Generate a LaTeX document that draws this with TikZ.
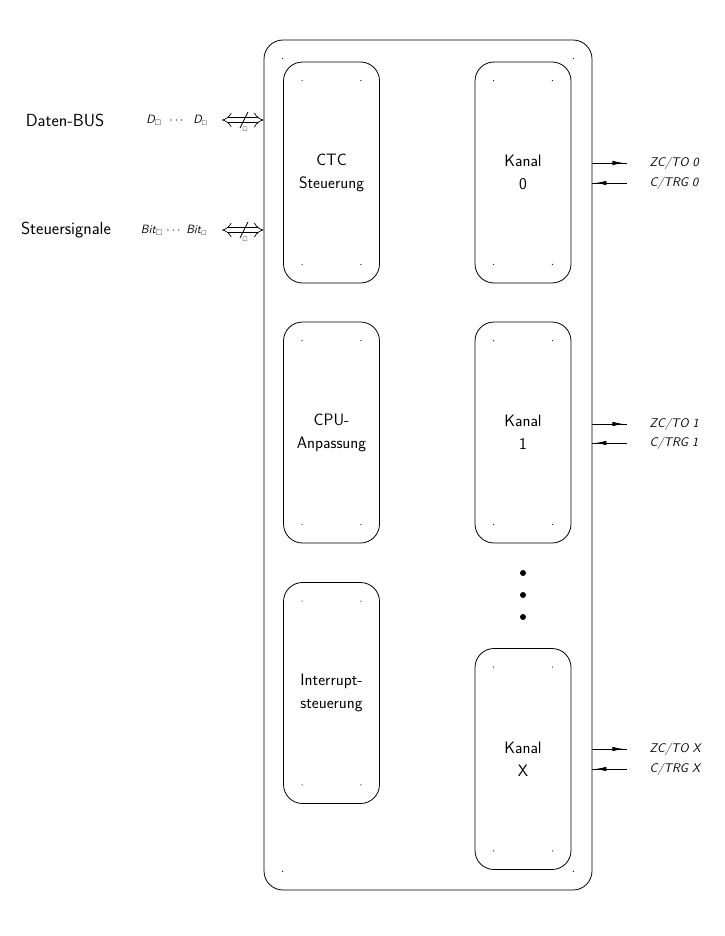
\documentclass[tikz,border=0pt]{standalone}
\usepackage{amsmath,amssymb}
\usepackage{tikz}
\usetikzlibrary{calc,arrows.meta}

\begin{document}
\begin{tikzpicture}[x=1pt,y=-1pt,line width=0.8pt,font=\sffamily,
		block/.style={draw,rounded corners=19pt,minimum width=96pt,minimum height=221pt,inner sep=0pt,align=center,font=\sffamily\fontsize{16.5}{23}\selectfont},
		sig/.style={anchor=west,font=\sffamily\itshape\fontsize{12.5}{14}\selectfont},
		bus/.style={double,double distance=4.5pt,line width=0.7pt,{Implies}-{Implies}}]
		\useasboundingbox (0,0) rectangle (724,936);
		\node[draw,rounded corners=19pt,minimum width=328pt,minimum height=850pt,inner sep=0pt] (chip) at (428,465) {};
		\node[block] (ctc) at (331.5,172.5) {CTC\\Steuerung};
		\node[block] (cpu) at (331.5,432.5) {CPU-\\Anpassung};
		\node[block] (irq) at (331.5,693) {Interrupt-\\steuerung};
		\node[block] (k0) at (523,172.5) {Kanal\\0};
		\node[block] (k1) at (523,432.5) {Kanal\\1};
		\node[block] (kx) at (523,759) {Kanal\\X};
		\foreach \b in {chip,ctc,cpu,irq,k0,k1,kx} {
			\fill ($(\b.north west)+(19,19)$) circle (0.6);
			\fill ($(\b.north east)+(-19,19)$) circle (0.6);
			\fill ($(\b.south west)+(19,-19)$) circle (0.6);
			\fill ($(\b.south east)+(-19,-19)$) circle (0.6);
		}
		\foreach \y in {573,595,617} \fill (523,\y) circle (3);
		\foreach \k/\yo/\yi in {0/163/183,1/424/443,X/749/769} {
			\node[sig] (zc\k) at (646,\yo) {ZC/TO \k};
			\node[sig] (trg\k) at (646,\yi) {C/TRG \k};
			\draw (chip.east |- zc\k) -- ++(35,0);
			\draw[-{Latex[length=11pt,width=4.5pt]}] ($(chip.east |- zc\k)+(19,0)$) -- ++(12,0);
			\draw (chip.east |- trg\k) -- ++(35,0);
			\draw[-{Latex[length=11pt,width=4.5pt]}] ($(chip.east |- trg\k)+(16,0)$) -- ++(-13,0);
		}
		\node[font=\sffamily\fontsize{17.5}{20}\selectfont] (daten) at (65,120) {Daten-BUS};
		\node[font=\sffamily\fontsize{17.5}{20}\selectfont] (steuer) at (66,230) {Steuersignale};
		\node[font=\sffamily\itshape\fontsize{12}{14}\selectfont] (dlab) at (177,120) {D$_{\square}$\ \ $\cdots$\ \ D$_{\scriptscriptstyle\square}$};
		\node[font=\sffamily\itshape\fontsize{12}{14}\selectfont] (blab) at (174,230) {Bit$_{\square}$\ $\cdots$\ Bit$_{\scriptscriptstyle\square}$};
		\coordinate (d0) at (222,120);
		\coordinate (b0) at (222,230);
		\draw[bus] (d0) -- (chip.west |- d0);
		\draw[bus] (b0) -- (chip.west |- b0);
		\draw (240,128) -- (248,112);
		\node[font=\tiny,inner sep=0pt,anchor=north] (dw) at (245,127) {$\square$};
		\draw (240,238) -- (248,222);
		\node[font=\tiny,inner sep=0pt,anchor=north] (bw) at (245,237) {$\square$};
	\end{tikzpicture}
\end{document}
